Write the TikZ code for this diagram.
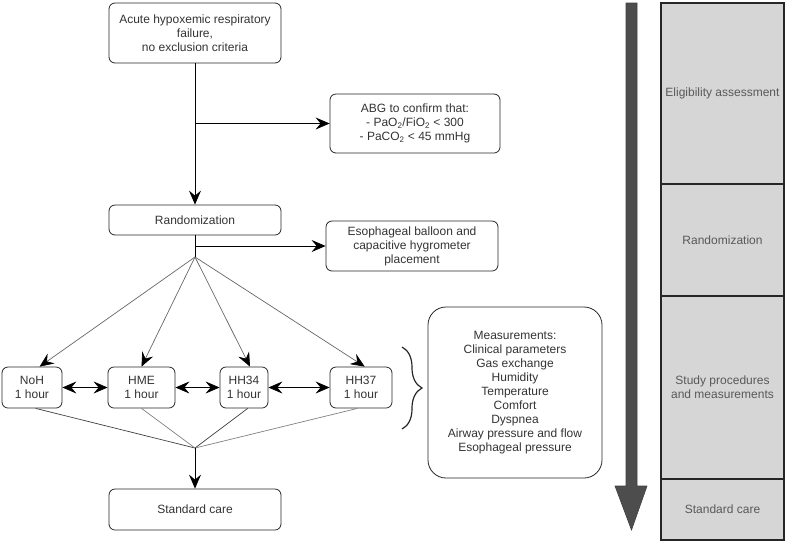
\documentclass[tikz,border=0pt]{standalone}
\usepackage{fontspec}
\setmainfont{Liberation Sans}
\usetikzlibrary{arrows.meta,decorations.pathreplacing}
\definecolor{txtgray}{HTML}{333333}
\definecolor{phasegray}{HTML}{D6D6D6}
\definecolor{arrowgray}{HTML}{4D4D4D}

\begin{document}
\begin{tikzpicture}[x=1pt,y=-1pt,
    box/.style={draw=black!85, line width=0.8pt, rounded corners=6pt, align=center, text=txtgray,
        font=\fontsize{12}{14}\selectfont, inner sep=0pt},
    phase/.style={draw=black!85, line width=1.2pt, fill=phasegray, align=center, text=black!65,
        font=\fontsize{12}{14}\selectfont, inner sep=0pt, minimum width=123pt},
    flow/.style={draw=black, line width=0.8pt, -{Stealth[length=14pt,width=12pt,inset=5pt]}},
    fan/.style={draw=black!60, line width=0.7pt, -{Stealth[length=14pt,width=12pt,inset=5pt,color=black]}},
    swap/.style={draw=black, line width=0.8pt, {Stealth[length=14pt,width=12pt,inset=5pt]}-{Stealth[length=14pt,width=12pt,inset=5pt]}}]
    \useasboundingbox (0,0) rectangle (786,542);

    \node[box, minimum width=172pt, minimum height=60pt] (acute) at (195,33) {Acute hypoxemic respiratory\\failure,\\no exclusion criteria};
    \node[box, minimum width=170pt, minimum height=59pt] (abg) at (415,123.5) {ABG to confirm that:\\- PaO\textsubscript{2}/FiO\textsubscript{2} < 300\\- PaCO\textsubscript{2} < 45 mmHg};
    \node[box, minimum width=172pt, minimum height=30pt] (random) at (195,220) {Randomization};
    \node[box, minimum width=172pt, minimum height=50pt] (balloon) at (412,246) {Esophageal balloon and\\capacitive hygrometer\\placement};
    \node[box, minimum width=60pt, minimum height=41pt] (noh) at (32,387.5) {NoH\\1 hour};
    \node[box, minimum width=67pt, minimum height=41pt] (hme) at (141.5,387.5) {HME\\1 hour};
    \node[box, minimum width=48pt, minimum height=41pt] (hh34) at (244,387.5) {HH34\\1 hour};
    \node[box, minimum width=62pt, minimum height=41pt] (hh37) at (361,387.5) {HH37\\1 hour};
    \node[box, minimum width=172pt, minimum height=41pt] (care) at (195,509.5) {Standard care};
    \node[box, rounded corners=18pt, minimum width=174pt, minimum height=171pt] (meas) at (515,392.5)
        {Measurements:\\Clinical parameters\\Gas exchange\\Humidity\\Temperature\\Comfort\\Dyspnea\\Airway pressure and flow\\Esophageal pressure};

    \coordinate (split) at (195,257);
    \coordinate (merge) at (195,448);

    \draw[flow] (acute) -- (random);
    \draw[flow] (acute |- abg) -- (abg);
    \draw[line width=0.8pt] (random.south) -- (split);
    \draw[flow] (random.south |- balloon) -- (balloon);
    \draw[fan] (split) -- (noh.70);
    \draw[fan] (split) -- (hme.north);
    \draw[fan] (split) -- (hh34.74);
    \draw[fan] (split) -- (hh37.80);
    \draw[swap] (noh) -- (hme);
    \draw[swap] (hme) -- (hh34);
    \draw[swap] (hh34) -- (hh37);
    \draw[black!75, line width=0.7pt] (noh.-80) -- (merge);
    \draw[black!50, line width=0.7pt] (hme.south) -- (merge);
    \draw[black!75, line width=0.7pt] (hh34.-80) -- (merge);
    \draw[black!50, line width=0.7pt] (hh37.-100) -- (merge);
    \draw[flow] (merge) -- (care);

    \draw[black!85, line width=1.2pt, decorate, decoration={brace, amplitude=20pt}] (402,347) -- (402,429);

    \filldraw[fill=arrowgray, draw=black!75, line width=0.6pt] (626,3) -- (637,3) -- (637,486) -- (647,486)
        -- (631.5,530) -- (615,486) -- (626,486) -- cycle;

    \node[phase, minimum height=181pt] (elig) at (722.5,93.5) {Eligibility assessment};
    \node[phase, minimum height=112pt] (rand) at (722.5,240) {Randomization};
    \node[phase, minimum height=183pt] (study) at (722.5,387.5) {Study procedures\\and measurements};
    \node[phase, minimum height=61pt] (stdcare) at (722.5,509.5) {Standard care};
\end{tikzpicture}
\end{document}
